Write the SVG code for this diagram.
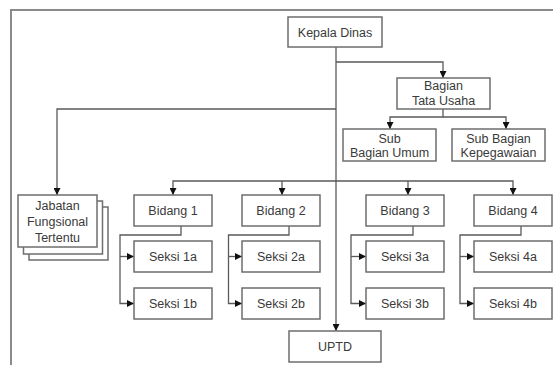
<svg xmlns="http://www.w3.org/2000/svg" width="553" height="365" viewBox="0 0 553 365">
<style>
.box{fill:#fff;stroke:#6e6e6e;stroke-width:1.5}
.t{font-family:"Liberation Sans",Arial,sans-serif;font-size:12.5px;fill:#3a3a3a;text-anchor:middle}
.c{fill:none;stroke:#5a5a5a;stroke-width:1.3}
.frame{fill:none;stroke:#8a8a8a;stroke-width:2}
</style>
<defs>
<marker id="a" markerUnits="userSpaceOnUse" markerWidth="8" markerHeight="7" refX="7" refY="3.5" orient="auto">
<path d="M0,0 L7,3.5 L0,7 z" fill="#111"/>
</marker>
</defs>
<path class="frame" d="M11,365 V10 H553"/>
<g id="connectors">
<path class="c" d="M336,47 V331" marker-end="url(#a)"/>
<path class="c" d="M336,62 H443 V78" marker-end="url(#a)"/>
<path class="c" d="M443,109 V117 H390 V129" marker-end="url(#a)"/>
<path class="c" d="M443,117 H506 V129" marker-end="url(#a)"/>
<path class="c" d="M336,109 H57 V195" marker-end="url(#a)"/>
<path class="c" d="M336,181 H173 V195" marker-end="url(#a)"/>
<path class="c" d="M282,181 V195" marker-end="url(#a)"/>
<path class="c" d="M336,181 H513 V195" marker-end="url(#a)"/>
<path class="c" d="M408,181 V195" marker-end="url(#a)"/>
<path class="c" d="M181,226 V235 H120 V303.5 H134" marker-end="url(#a)"/>
<path class="c" d="M120,256.5 H134" marker-end="url(#a)"/>
<path class="c" d="M289,226 V235 H228.5 V303.5 H242" marker-end="url(#a)"/>
<path class="c" d="M228.5,256.5 H242" marker-end="url(#a)"/>
<path class="c" d="M413,226 V235 H351 V303.5 H366" marker-end="url(#a)"/>
<path class="c" d="M351,256.5 H366" marker-end="url(#a)"/>
<path class="c" d="M521,226 V235 H460 V303.5 H474" marker-end="url(#a)"/>
<path class="c" d="M460,256.5 H474" marker-end="url(#a)"/>
</g>
<g id="kepala"><rect class="box" x="288" y="17" width="94" height="30"/><text class="t" x="335" y="36.5">Kepala Dinas</text></g>
<g id="bagian"><rect class="box" x="397" y="78" width="93" height="31"/><text class="t" x="443.5" y="90">Bagian</text><text class="t" x="443.5" y="104.5">Tata Usaha</text></g>
<g id="subumum"><rect class="box" x="343" y="129" width="93" height="32"/><text class="t" x="389.5" y="142.5">Sub</text><text class="t" x="389.5" y="157">Bagian Umum</text></g>
<g id="subkepeg"><rect class="box" x="452" y="129" width="93" height="32"/><text class="t" x="498.5" y="142.5">Sub Bagian</text><text class="t" x="498.5" y="157">Kepegawaian</text></g>
<g id="jabatan">
<rect class="box" x="29" y="207" width="79" height="53"/>
<rect class="box" x="23.5" y="201" width="79" height="53"/>
<rect class="box" x="18" y="195" width="79" height="52"/>
<text class="t" x="57.5" y="210">Jabatan</text><text class="t" x="57.5" y="226">Fungsional</text><text class="t" x="57.5" y="241.5">Tertentu</text>
</g>
<g id="bidang1"><rect class="box" x="134" y="195" width="78" height="31"/><text class="t" x="173" y="215">Bidang 1</text></g>
<g id="bidang2"><rect class="box" x="242" y="195" width="78" height="31"/><text class="t" x="281" y="215">Bidang 2</text></g>
<g id="bidang3"><rect class="box" x="366" y="195" width="78" height="31"/><text class="t" x="405" y="215">Bidang 3</text></g>
<g id="bidang4"><rect class="box" x="474" y="195" width="78" height="31"/><text class="t" x="513" y="215">Bidang 4</text></g>
<g id="seksi1a"><rect class="box" x="134" y="241" width="78" height="31"/><text class="t" x="173" y="261">Seksi 1a</text></g>
<g id="seksi1b"><rect class="box" x="134" y="288" width="78" height="31"/><text class="t" x="173" y="308">Seksi 1b</text></g>
<g id="seksi2a"><rect class="box" x="242" y="241" width="78" height="31"/><text class="t" x="281" y="261">Seksi 2a</text></g>
<g id="seksi2b"><rect class="box" x="242" y="288" width="78" height="31"/><text class="t" x="281" y="308">Seksi 2b</text></g>
<g id="seksi3a"><rect class="box" x="366" y="241" width="78" height="31"/><text class="t" x="405" y="261">Seksi 3a</text></g>
<g id="seksi3b"><rect class="box" x="366" y="288" width="78" height="31"/><text class="t" x="405" y="308">Seksi 3b</text></g>
<g id="seksi4a"><rect class="box" x="474" y="241" width="78" height="31"/><text class="t" x="513" y="261">Seksi 4a</text></g>
<g id="seksi4b"><rect class="box" x="474" y="288" width="78" height="31"/><text class="t" x="513" y="308">Seksi 4b</text></g>
<g id="uptd"><rect class="box" x="289" y="331" width="92" height="31"/><text class="t" x="335" y="351">UPTD</text></g>
</svg>
